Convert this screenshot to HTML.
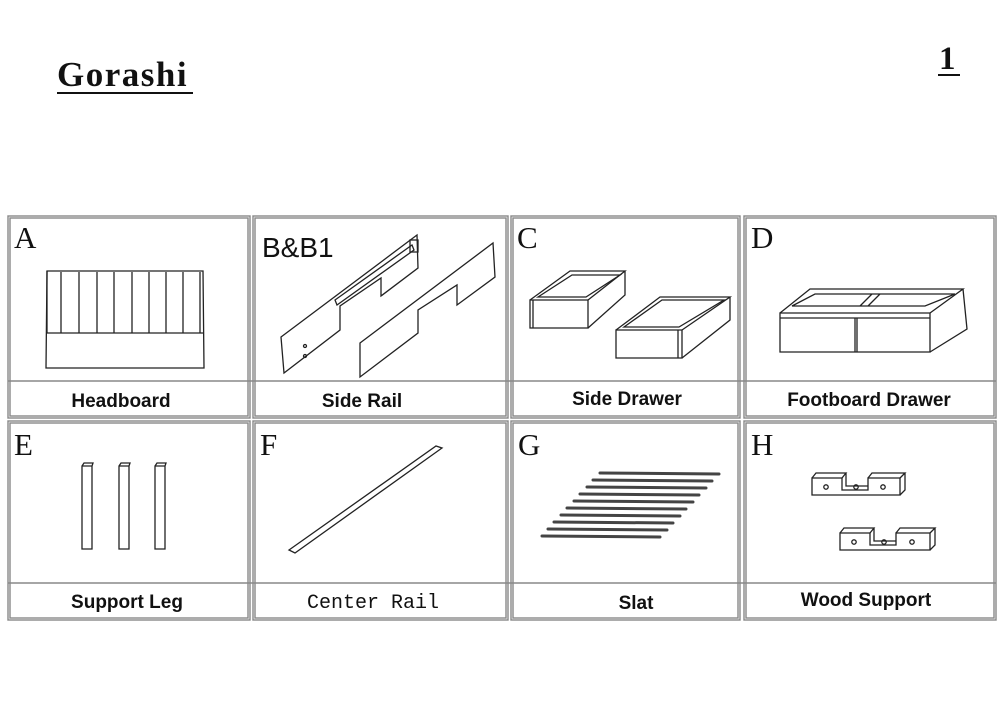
<!DOCTYPE html>
<html><head><meta charset="utf-8"><style>
body{margin:0;background:#fff;}
svg{display:block}
.l{font-family:"Liberation Serif",serif;font-size:31px;fill:#111}
.t{font-family:"Liberation Sans",sans-serif;font-size:19px;font-weight:bold;fill:#111;text-anchor:middle}
.c{fill:none;stroke:#888;stroke-width:1.4}
.d{fill:none;stroke:#222;stroke-width:1.3}
</style></head><body>
<svg width="1000" height="714" viewBox="0 0 1000 714" xmlns="http://www.w3.org/2000/svg">
<text x="57" y="86" font-family="Liberation Serif,serif" font-size="35" font-weight="bold" fill="#111" letter-spacing="1.5">Gorashi</text>
<line x1="57" y1="93" x2="193" y2="93" stroke="#111" stroke-width="2"/>
<text x="939" y="69" font-family="Liberation Serif,serif" font-size="33" font-weight="bold" fill="#111">1</text>
<line x1="938" y1="75" x2="960" y2="75" stroke="#111" stroke-width="2"/>

<g class="c">
<rect x="8" y="216" width="242" height="202"/><rect x="10" y="218" width="238" height="198"/>
<rect x="253" y="216" width="255" height="202"/><rect x="255" y="218" width="251" height="198"/>
<rect x="511" y="216" width="229" height="202"/><rect x="513" y="218" width="225" height="198"/>
<rect x="744" y="216" width="252" height="202"/><rect x="746" y="218" width="248" height="198"/>
<rect x="8" y="421" width="242" height="199"/><rect x="10" y="423" width="238" height="195"/>
<rect x="253" y="421" width="255" height="199"/><rect x="255" y="423" width="251" height="195"/>
<rect x="511" y="421" width="229" height="199"/><rect x="513" y="423" width="225" height="195"/>
<rect x="744" y="421" width="252" height="199"/><rect x="746" y="423" width="248" height="195"/>
<line x1="8" y1="381" x2="996" y2="381"/>
<line x1="8" y1="583" x2="996" y2="583"/>
</g>

<text class="l" x="14" y="248">A</text>
<text x="262" y="257" font-family="Liberation Sans,sans-serif" font-size="28" fill="#111">B&amp;B1</text>
<text class="l" x="517" y="248">C</text>
<text class="l" x="751" y="248">D</text>
<text class="l" x="14" y="455">E</text>
<text class="l" x="260" y="455">F</text>
<text class="l" x="518" y="455">G</text>
<text class="l" x="751" y="455">H</text>

<text class="t" x="121" y="407">Headboard</text>
<text class="t" x="362" y="407">Side Rail</text>
<text class="t" x="627" y="405">Side Drawer</text>
<text class="t" x="869" y="406">Footboard Drawer</text>
<text class="t" x="127" y="608">Support Leg</text>
<text x="373" y="608" font-family="Liberation Mono,monospace" font-size="20" fill="#111" text-anchor="middle">Center Rail</text>
<text class="t" x="636" y="609">Slat</text>
<text class="t" x="866" y="606">Wood Support</text>

<g class="d">
<path d="M47,271 L203,271 L204,368 L46,368 Z"/>
<line x1="47" y1="333" x2="203" y2="333"/>
<path d="M47,271 L47,333 M61,272 L61,333 M79,272 L79,333 M97,272 L97,333 M114,272 L114,333 M132,272 L132,333 M149,272 L149,333 M166,272 L166,333 M183,272 L183,333 M200,272 L200,333"/>
</g>
<g class="d">
<path d="M281,337 L417,235 L418,268 L381,296 L381,278 L340,306 L340,330 L284,373 Z"/>
<path d="M335,300 L412,245 L414,250 L337,305 Z"/>
<rect x="410" y="240" width="8" height="12"/>
<circle cx="305" cy="346" r="1.5"/><circle cx="305" cy="356" r="1.5"/>
<path d="M360,343 L493,243 L495,277 L457,305 L457,285 L418,310 L418,333 L360,377 Z"/>
</g>
<g class="d">
<path d="M530,300 L588,300 L588,328 L530,328 Z M533,300 L533,328"/>
<path d="M530,300 L570,271 L625,271 L588,300 M625,271 L625,295 L588,328"/>
<path d="M538,297 L572,275 L620,275 L586,297 Z"/>
<path d="M616,330 L682,330 L682,358 L616,358 Z M678,330 L678,358"/>
<path d="M616,330 L660,297 L730,297 L682,330 M730,297 L730,320 L682,358"/>
<path d="M624,327 L662,300 L724,300 L679,327 Z"/>
</g>
<g class="d">
<path d="M780,313 L930,313 L930,352 L780,352 Z M780,318 L930,318 M855,318 L855,352 M857,318 L857,352"/>
<path d="M780,313 L810,289 L963,289 L930,313 M963,289 L967,329 L930,352"/>
<path d="M792,306 L815,294 L955,294 L925,306 Z M872,294 L860,306 M880,294 L868,306"/>
</g>
<g class="d">
<path d="M82,466 L84,463 L93,463 L92,466 L92,549 L82,549 Z M82,466 L92,466"/>
<path d="M119,466 L121,463 L130,463 L129,466 L129,549 L119,549 Z M119,466 L129,466"/>
<path d="M155,466 L157,463 L166,463 L165,466 L165,549 L155,549 Z M155,466 L165,466"/>
</g>
<path class="d" d="M289,550 L436,446 L442,448 L295,553 Z"/>
<g stroke="#444" stroke-width="3" stroke-linecap="round">
<line x1="600" y1="473" x2="719" y2="474"/>
<line x1="593" y1="480" x2="712" y2="481"/>
<line x1="587" y1="487" x2="706" y2="488"/>
<line x1="580" y1="494" x2="699" y2="495"/>
<line x1="574" y1="501" x2="693" y2="502"/>
<line x1="567" y1="508" x2="686" y2="509"/>
<line x1="561" y1="515" x2="680" y2="516"/>
<line x1="554" y1="522" x2="673" y2="523"/>
<line x1="548" y1="529" x2="667" y2="530"/>
<line x1="542" y1="536" x2="660" y2="537"/>
</g>
<g class="d" stroke-width="1">
<path d="M812,478 L842,478 L842,490 L868,490 L868,478 L900,478 L900,495 L812,495 Z"/>
<path d="M812,478 L816,473 L846,473 L842,478 M868,478 L872,473 L905,473 L900,478 M905,473 L905,490 L900,495 M846,473 L846,486 L868,486"/>
<circle cx="826" cy="487" r="2.2"/><circle cx="856" cy="487" r="2.2"/><circle cx="883" cy="487" r="2.2"/>
<path d="M840,533 L870,533 L870,545 L896,545 L896,533 L930,533 L930,550 L840,550 Z"/>
<path d="M840,533 L844,528 L874,528 L870,533 M896,533 L900,528 L935,528 L930,533 M935,528 L935,545 L930,550 M874,528 L874,541 L896,541"/>
<circle cx="854" cy="542" r="2.2"/><circle cx="884" cy="542" r="2.2"/><circle cx="912" cy="542" r="2.2"/>
</g>
</svg>
</body></html>
